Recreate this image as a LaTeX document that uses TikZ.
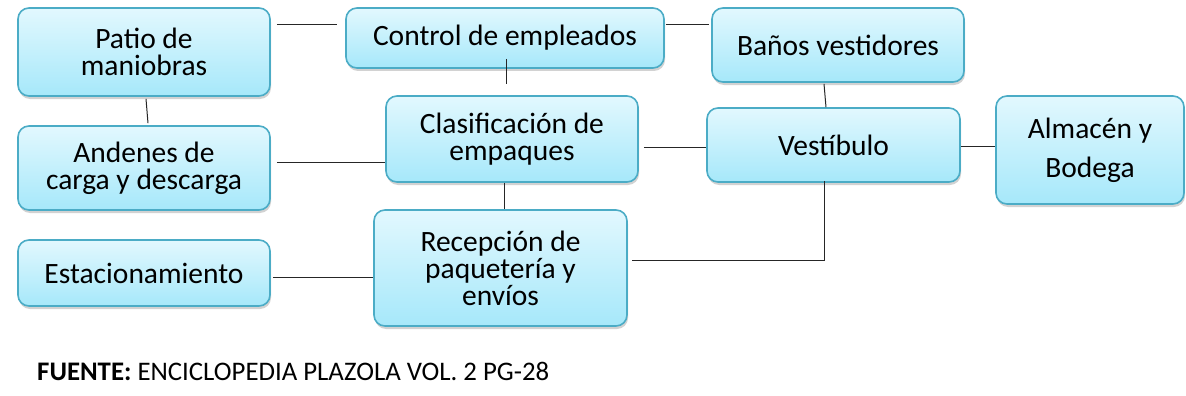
\documentclass[tikz,border=0pt]{standalone}
\usepackage{fontspec}
\setmainfont{Carlito}
\usetikzlibrary{shadows,calc}
\definecolor{boxtop}{HTML}{E2F8FE}
\definecolor{boxbot}{HTML}{A6E8FA}
\definecolor{boxedge}{HTML}{4BACC6}
\tikzset{
  box/.style={rounded corners=11pt, draw=boxedge, line width=1.6pt,
    top color=boxtop, bottom color=boxbot, align=center,
    font=\fontsize{29.5}{27}\selectfont, inner sep=0pt,
    drop shadow={opacity=0.35, shadow xshift=1pt, shadow yshift=-3pt}},
  conn/.style={line width=1pt, draw=black!85}
}
\begin{document}
\begin{tikzpicture}[x=1pt,y=-1pt]
\useasboundingbox[fill=white] (0,0) rectangle (1186,396);
\node[box, minimum width=252pt, minimum height=88pt] (patio) at (144,52) {Patio de\\maniobras};
\node[box, minimum width=318pt, minimum height=60pt] (control) at (505,38) {Control de empleados};
\node[box, minimum width=252pt, minimum height=74pt] (banos) at (838,45) {Baños vestidores};
\node[box, minimum width=252pt, minimum height=84pt] (andenes) at (144,168) {Andenes de\\carga y descarga};
\node[box, minimum width=252pt, minimum height=86pt] (clasif) at (512,139) {Clasificación de\\empaques};
\node[box, minimum width=253pt, minimum height=74pt] (vest) at (833.5,145) {Vestíbulo};
\node[box, minimum width=188pt, minimum height=108pt, font=\fontsize{29.5}{39}\selectfont] (almacen) at (1090,150) {Almacén y\\Bodega};
\node[box, minimum width=252pt, minimum height=66pt] (estac) at (144,273) {Estacionamiento};
\node[box, minimum width=253pt, minimum height=116pt] (recep) at (500.5,268) {Recepción de\\paquetería y\\envíos};
\node[anchor=base west, inner sep=0pt, font=\fontsize{26.8}{30}\selectfont] (fuente) at (37,380) {\textbf{FUENTE:} ENCICLOPEDIA PLAZOLA VOL. 2 PG-28};
% connectors
\draw[conn] ($(patio.north east)+(6,17)$) -- ($(control.north west)+(-8,17)$);
\draw[conn] ($(control.north east)+(1,17)$) -- ($(banos.north west)+(-2,17)$);
\draw[conn] ($(control.south)+(1,-10)$) -- ($(clasif.north)+(-6,-11)$);
\draw[conn] ($(patio.south)+(2,2)$) -- ($(andenes.north)+(4,-2)$);
\draw[conn] ($(andenes.east)+(6,-6)$) -- (clasif.west |- 0,162);
\draw[conn] ($(clasif.east)+(5,8)$) -- (vest.west |- 0,147);
\draw[conn] ($(banos.south)+(-14,1)$) -- ($(vest.north)+(-7.5,0)$);
\draw[conn] (vest.east |- 0,146) -- (almacen.west |- 0,146);
\draw[conn] ($(clasif.south)+(-8,0)$) -- ($(recep.north)+(3.5,0)$);
\draw[conn] ($(vest.south)+(-9.5,-2)$) |- ($(recep.east)+(4,-8)$);
\draw[conn] ($(estac.east)+(2,4)$) -- (recep.west |- 0,277);
\end{tikzpicture}
\end{document}
